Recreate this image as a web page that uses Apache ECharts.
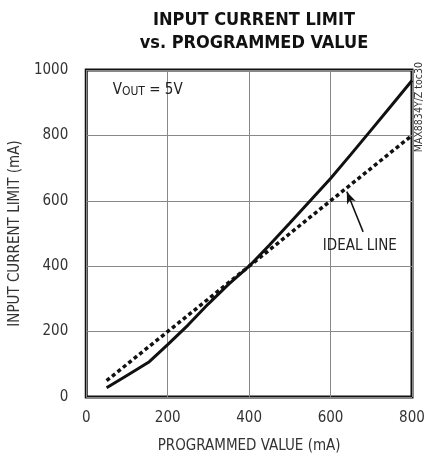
<!DOCTYPE html>
<html>
<head>
<meta charset="utf-8">
<script src="https://cdn.jsdelivr.net/npm/echarts@6/dist/echarts.min.js"></script>
<style>
  html, body { margin: 0; padding: 0; background: #fff; }
  #chart { width: 429px; height: 460px; }
</style>
</head>
<body>
<div id="chart"></div>
<script>
// programmed value (mA) vs measured input current limit (mA)
var measuredX = [50, 100, 155, 200, 250, 300, 350, 400, 450, 500, 550, 600, 650, 700, 750, 800];
var measuredY = [28, 66, 108, 160, 220, 285, 345, 400, 465, 532, 600, 668, 742, 817, 892, 968];
var idealX = [50, 800];
var idealY = [50, 800];
var xTicks = [0, 200, 400, 600, 800];
var yTicks = [0, 200, 400, 600, 800, 1000];

function pairs(xs, ys) {
    return xs.map(function (x, i) { return [x, ys[i]]; });
}

var font = '"Liberation Sans Narrow", "DejaVu Sans Condensed", sans-serif';

var dom = document.getElementById("chart");
var myChart = echarts.init(dom);
var option = {
    animation: false,
    title: {
        text: 'INPUT CURRENT LIMIT\nvs. PROGRAMMED VALUE',
        left: 249,
        top: 4,
        textAlign: 'center',
        textStyle: {
            fontFamily: font,
            fontWeight: 'bold',
            fontSize: 18,
            lineHeight: 23,
            color: '#111'
        }
    },
    grid: {
        left: 85,
        right: 17,
        top: 70,
        bottom: 63,
        show: true,
        borderColor: '#111',
        borderWidth: 3
    },
    xAxis: {
        type: 'value',
        min: 0,
        max: 800,
        interval: 200,
        name: 'PROGRAMMED VALUE (mA)',
        nameLocation: 'middle',
        nameGap: 42,
        nameTextStyle: { fontFamily: font, fontSize: 15, color: '#333' },
        axisLine: { show: false },
        axisTick: { show: false },
        axisLabel: {
            fontFamily: font, fontSize: 15, color: '#333', margin: 14,
            formatter: function (v) { return xTicks.indexOf(v) >= 0 ? String(v) : ''; }
        },
        splitLine: { lineStyle: { color: '#888', width: 1 } }
    },
    yAxis: {
        type: 'value',
        min: 0,
        max: 1000,
        interval: 200,
        name: 'INPUT CURRENT LIMIT (mA)',
        nameLocation: 'middle',
        nameGap: 53,
        nameTextStyle: { fontFamily: font, fontSize: 15, color: '#333' },
        axisLine: { show: false },
        axisTick: { show: false },
        axisLabel: {
            fontFamily: font, fontSize: 15, color: '#333', margin: 18,
            formatter: function (v) { return yTicks.indexOf(v) >= 0 ? String(v) : ''; }
        },
        splitLine: { lineStyle: { color: '#888', width: 1 } }
    },
    series: [
        {
            name: 'measured',
            type: 'line',
            symbol: 'none',
            data: pairs(measuredX, measuredY),
            lineStyle: { color: '#111', width: 3 },
            markPoint: {
                symbol: 'circle',
                symbolSize: 0,
                data: [{
                    coord: [65, 940],
                    label: {
                        show: true,
                        position: 'right',
                        distance: 0,
                        formatter: '{v|V}{s|OUT}{v| = 5V}',
                        rich: {
                            v: { fontFamily: font, fontSize: 15, color: '#222' },
                            s: { fontFamily: font, fontSize: 12, color: '#222', verticalAlign: 'bottom', padding: [4, 0, 0, 0] }
                        }
                    }
                }]
            }
        },
        {
            name: 'ideal',
            type: 'line',
            symbol: 'none',
            data: pairs(idealX, idealY),
            lineStyle: { color: '#111', width: 3.5, type: [4, 3], cap: 'butt' },
            markLine: {
                silent: true,
                symbol: ['none', 'arrow'],
                symbolSize: [7, 12],
                lineStyle: { color: '#111', width: 1.5, type: 'solid' },
                label: { show: false },
                data: [[{ coord: [680, 505] }, { coord: [640, 628] }]]
            },
            markPoint: {
                symbol: 'circle',
                symbolSize: 0,
                data: [{
                    coord: [672, 462],
                    label: {
                        show: true,
                        position: 'inside',
                        formatter: 'IDEAL LINE',
                        fontFamily: font,
                        fontSize: 15,
                        color: '#222'
                    }
                }]
            }
        }
    ],
    graphic: [{
        type: 'text',
        left: 414,
        top: 62,
        rotation: Math.PI / 2,
        originX: 0,
        originY: 0,
        style: {
            text: 'MAX8834Y/Z toc30',
            font: '10.5px ' + font,
            fill: '#333',
            textAlign: 'right',
            textVerticalAlign: 'top'
        }
    }]
};
if (option && typeof option === "object") {
    myChart.setOption(option, true);
}
</script>
</body>
</html>
